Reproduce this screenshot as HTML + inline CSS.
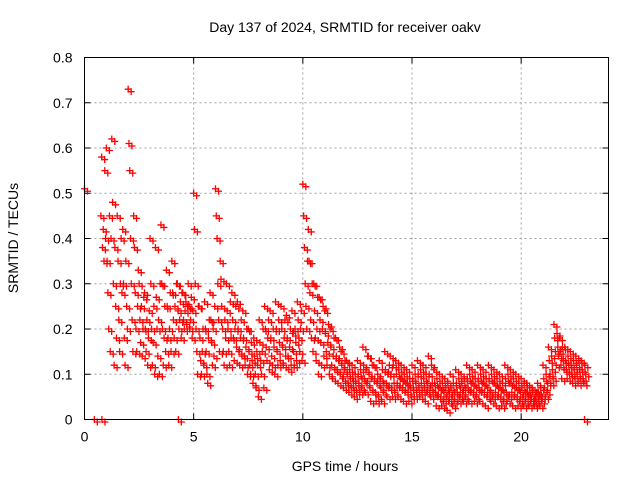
<!DOCTYPE html>
<html><head><meta charset="utf-8"><style>
body{margin:0;background:#fff;}
svg text{font-family:"Liberation Sans",sans-serif;font-size:14px;fill:#000;}
</style></head><body>
<svg id="chart" width="640" height="480" xmlns="http://www.w3.org/2000/svg">
<text x="345" y="32" text-anchor="middle">Day 137 of 2024, SRMTID for receiver oakv</text>
<text x="345" y="471" text-anchor="middle">GPS time / hours</text>
<text transform="translate(18,238) rotate(-90)" text-anchor="middle">SRMTID / TECUs</text>
<g id="grid"></g>
<g id="ticks"></g>
<g id="marks"></g>
<rect x="84.5" y="57.5" width="524" height="362" fill="none" stroke="#000" stroke-width="1"/>
</svg>
<script>
const xTicks=[0,5,10,15,20];
const yTicks=[0,0.1,0.2,0.3,0.4,0.5,0.6,0.7,0.8];
const yTickLabels=["0","0.1","0.2","0.3","0.4","0.5","0.6","0.7","0.8"];
const binStarts=[0.75,1,1.25,1.5,1.75,2,2.25,2.5,2.75,3,3.25,3.5,3.75,4,4.25,4.5,4.75,5,5.25,5.5,5.75,6,6.25,6.5,6.75,7,7.25,7.5,7.75,8,8.25,8.5,8.75,9,9.25,9.5,9.75,10,10.25,10.5,10.75,11,11.25,11.5,11.75,12,12.25,12.5,12.75,13,13.25,13.5,13.75,14,14.25,14.5,14.75,15,15.25,15.5,15.75,16,16.25,16.5,16.75,17,17.25,17.5,17.75,18,18.25,18.5,18.75,19,19.25,19.5,19.75,20,20.25,20.5,20.75,21,21.25,21.5,21.75,22,22.25,22.5,22.75];
const binValues=[
[45,58,38,42,35,55,40],[60,35,28,20,45,15,40],[62,48,30,12,38,25,18],[45,35,22,15,30,40,28],[42,30,18,12,35,25,20],
[73,61,55,40,30,22,15],[45,38,28,20,15,25,33],[30,22,17,25,14,20,27],[28,20,15,22,12,18,24],[40,30,20,12,17,25,10],
[38,27,20,14,22,10,30],[43,30,20,12,18,25,15],[33,25,18,12,20,28,15],[35,28,22,18,25,15,30],[30,24,20,22,26,18,28],
[28,22,20,24,26,21,25],[30,25,20,22,27,18,24],[50,42,30,20,15,10,25],[25,18,13,10,15,20,12],[26,20,15,10,8,18,22],
[28,22,17,12,20,14,25],[51,45,40,30,22,15,35],[31,25,20,15,12,22,18],[30,24,20,15,12,26,18],[28,22,18,13,20,25,16],
[26,20,15,12,18,22,14],[24,18,14,12,16,20,10],[20,15,12,10,17,13,8],[18,14,10,7,15,12,5],[22,17,13,10,15,20,7],
[25,20,16,13,18,22,11],[24,18,14,12,20,16,10],[26,20,15,12,22,17,13],[25,20,16,12,18,22,14],[23,18,14,11,16,20,12],
[24,19,15,12,20,17,13],[26,22,18,15,20,24,13],[52,45,38,30,25,20,35],[42,35,28,22,18,30,15],[30,24,18,13,20,27,10],
[27,22,17,12,20,25,14],[24,19,15,12,17,21,10],[20,16,12,9,14,18,11],[18,14,11,8,13,16,10],[15,12,9,7,11,13,8],
[13,10,8,6,11,9,7],[12,9,7,5,10,8,6],[13,10,8,6,11,7,9],[16,12,9,6,11,8,14],[14,10,7,4,9,12,6],
[12,9,6,4,8,10,5],[13,9,7,4,11,6,8],[15,11,8,5,10,7,12],[14,10,7,5,12,8,6],[13,10,8,5,11,7,9],
[12,9,7,4,10,6,8],[11,8,6,4,9,7,5],[12,9,7,5,10,8,6],[13,10,7,5,11,8,6],[12,9,7,4,10,6,8],
[14,10,7,5,12,8,6],[11,8,6,3,9,5,7],[10,7,5,3,8,4,6],[9,7,5,2,8,4,6],[10,7,5,3,8,4,6],
[11,8,6,4,9,5,7],[10,8,6,4,9,5,7],[12,9,7,4,10,6,8],[11,8,6,4,9,5,7],[12,9,7,4,10,6,8],
[11,8,6,3,9,5,7],[12,9,6,4,10,5,8],[11,8,6,3,9,5,7],[10,7,5,3,8,4,6],[12,9,6,4,10,5,8],
[11,8,6,3,9,5,7],[10,7,5,3,8,4,6],[9,7,5,3,8,4,6],[8,6,5,3,7,4,5],[7,6,4,3,5,4,6],
[8,6,5,3,7,4,5],[12,9,7,5,10,6,8],[16,13,10,8,14,11,9],[21,18,15,12,19,16,14],[18,15,12,9,16,13,11],
[16,13,11,9,14,12,10],[15,12,10,8,13,11,9],[14,12,10,8,13,11,9],[13,11,9,8,12,10]];
const extraTimes=[0,0.45,0.8,4.3,22.9];
const extraValues=[0.51,0,0,0,0];
const X0=84.5,X1=608.5,Y0=419.5,Y1=57.5;
function xs(t){return X0+(t-0)/(24-0)*(X1-X0);}
function ys(v){return Y0-(v-0)/(0.8-0)*(Y0-Y1);}
const NS="http://www.w3.org/2000/svg";
const grid=document.getElementById('grid'),ticks=document.getElementById('ticks'),marks=document.getElementById('marks');
yTicks.forEach((v,i)=>{
  const y=ys(v);
  if(i>0&&i<yTicks.length-1){const g=document.createElementNS(NS,'line');
  
  
  g.setAttribute('x1',X0);g.setAttribute('x2',X1);g.setAttribute('y1',y);g.setAttribute('y2',y);
  g.setAttribute('stroke','#a0a0a0');g.setAttribute('stroke-dasharray','2,3');grid.appendChild(g);}
  const tk=document.createElementNS(NS,'path');
  
  
  tk.setAttribute('d',`M${X0} ${y}h6M${X1} ${y}h-6`);tk.setAttribute('stroke','#000');ticks.appendChild(tk);
  const t=document.createElementNS(NS,'text');
  
  
  t.setAttribute('x',X0-12);t.setAttribute('y',y+5);t.setAttribute('text-anchor','end');t.textContent=yTickLabels[i];ticks.appendChild(t);
});
xTicks.forEach(v=>{
  const x=xs(v);
  if(v>0){const g=document.createElementNS(NS,'line');
  
  
  g.setAttribute('x1',x);g.setAttribute('x2',x);g.setAttribute('y1',Y0);g.setAttribute('y2',Y1);
  g.setAttribute('stroke','#a0a0a0');g.setAttribute('stroke-dasharray','2,3');grid.appendChild(g);}
  const tk=document.createElementNS(NS,'path');
  
  
  tk.setAttribute('d',`M${x} ${Y0}v-6M${x} ${Y1}v6`);tk.setAttribute('stroke','#000');ticks.appendChild(tk);
  const t=document.createElementNS(NS,'text');
  
  
  t.setAttribute('x',x);t.setAttribute('y',Y0+22);t.setAttribute('text-anchor','middle');t.textContent=String(v);ticks.appendChild(t);
});
function cross(t,v){
  const x=xs(t),y=ys(v);
  const p=document.createElementNS(NS,'path');
  
  
  p.setAttribute('d',`M${x-3.5} ${y}h7M${x} ${y-3.5}v7M${x-0.5} ${y+2.5}h7M${x+3} ${y-1}v7`);
  p.setAttribute('stroke','#ff0000');p.setAttribute('stroke-width','1.3');marks.appendChild(p);
}
binStarts.forEach((b,i)=>{const vals=binValues[i];vals.forEach((v,j)=>cross(b+j*0.25/vals.length,v/100));});
extraTimes.forEach((t,i)=>cross(t,extraValues[i]));
</script>
</body></html>
